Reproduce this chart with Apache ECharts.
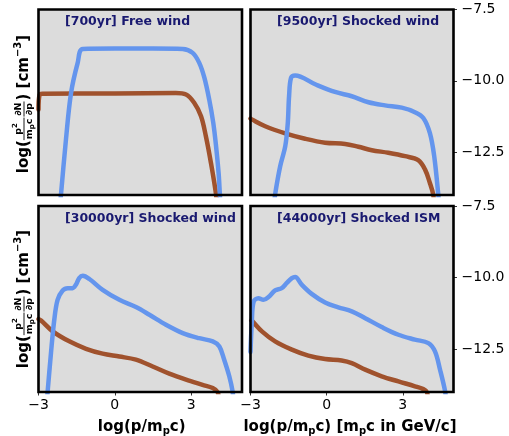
<!DOCTYPE html>
<html>
<head>
<meta charset="utf-8">
<script src="https://cdn.jsdelivr.net/npm/echarts@6/dist/echarts.min.js"></script>
<style>html,body{margin:0;padding:0;background:#fff}#c{width:509px;height:436px}</style>
</head>
<body>
<div id="c"></div>
<script>
// ---- data ----
const panelTitles = ['[700yr] Free wind', '[9500yr] Shocked wind', '[30000yr] Shocked wind', '[44000yr] Shocked ISM'];
const xTicks = [-3, 0, 3];
const yTicks = [-12.5, -10, -7.5];
const xRange = [-3, 5];
const yRange = [-14, -7.5];

const tlBlue = [[-2.15,-14.3],[-2.116,-13.98],[-1.92,-12.05],[-1.72,-10.42],[-1.46,-9.37],[-1.26,-8.88],[0,-8.87],[1.5,-8.87],[2.67,-8.88],[3.06,-9.02],[3.32,-9.37],[3.52,-9.89],[3.71,-10.65],[3.87,-11.47],[3.98,-12.29],[4.08,-13.23],[4.13,-13.98],[4.15,-14.3]];
const tlBrown = [[-3,-11.0],[-2.96,-10.5],[-2.85,-10.45],[0,-10.44],[2.4,-10.43],[2.8,-10.48],[3.12,-10.77],[3.39,-11.24],[3.58,-11.94],[3.78,-12.88],[3.98,-13.98],[4.0,-14.3]];

const trBlue = [[-2.06,-14.3],[-2.03,-13.98],[-1.83,-12.99],[-1.63,-12.29],[-1.53,-11.47],[-1.48,-10.54],[-1.40,-9.89],[-1.24,-9.81],[-0.45,-10.12],[0.33,-10.39],[0.99,-10.54],[1.65,-10.75],[2.30,-10.86],[2.96,-10.94],[3.48,-11.10],[3.81,-11.30],[4.07,-11.83],[4.24,-12.64],[4.40,-13.98],[4.43,-14.3]];
const trBrown = [[-3,-11.32],[-2.95,-11.35],[-2.42,-11.59],[-1.63,-11.84],[-0.85,-12.03],[-0.06,-12.17],[0.73,-12.21],[1.25,-12.31],[1.78,-12.43],[2.43,-12.52],[3.09,-12.64],[3.61,-12.78],[3.88,-13.11],[4.07,-13.58],[4.20,-13.98],[4.23,-14.3]];

const blBlue = [[-2.67,-14.3],[-2.64,-13.98],[-2.51,-12.64],[-2.38,-11.48],[-2.25,-10.78],[-2.05,-10.45],[-1.85,-10.37],[-1.66,-10.37],[-1.53,-10.25],[-1.40,-10.02],[-1.26,-9.94],[-1.00,-10.05],[-0.48,-10.43],[0.18,-10.78],[0.83,-11.03],[1.36,-11.30],[2.01,-11.65],[2.67,-11.94],[3.32,-12.12],[3.85,-12.23],[4.11,-12.41],[4.30,-12.87],[4.50,-13.45],[4.63,-13.98],[4.66,-14.3]];
const blBrown = [[-3,-11.45],[-2.90,-11.50],[-2.44,-11.88],[-1.79,-12.23],[-1.13,-12.49],[-0.48,-12.66],[0.18,-12.76],[0.83,-12.87],[1.49,-13.11],[2.14,-13.36],[2.80,-13.57],[3.45,-13.75],[3.85,-13.86],[4.04,-14.0],[4.1,-14.3]];

const brBlue = [[-3,-12.6],[-2.95,-11.6],[-2.88,-10.85],[-2.69,-10.72],[-2.49,-10.78],[-2.29,-10.68],[-2.03,-10.45],[-1.77,-10.37],[-1.57,-10.19],[-1.37,-10.02],[-1.24,-9.98],[-0.98,-10.25],[-0.59,-10.57],[-0.06,-10.87],[0.46,-11.04],[0.99,-11.18],[1.52,-11.42],[2.17,-11.73],[2.83,-12.0],[3.48,-12.17],[4.01,-12.29],[4.27,-12.58],[4.47,-13.22],[4.67,-13.98],[4.70,-14.3]];
const brBrown = [[-2.97,-11.5],[-2.92,-11.53],[-2.55,-11.88],[-2.03,-12.23],[-1.37,-12.52],[-0.72,-12.73],[-0.06,-12.85],[0.59,-12.90],[0.99,-12.99],[1.52,-13.22],[2.17,-13.45],[2.83,-13.63],[3.48,-13.80],[3.81,-13.90],[3.95,-14.0],[4.0,-14.3]];

const blueSeries = [tlBlue, trBlue, blBlue, brBlue];
const brownSeries = [tlBrown, trBrown, blBrown, brBrown];

// ---- layout / style ----
const FONT = 'DejaVu Sans';
const BLUE = '#6495ED', BROWN = '#A0522D';
const grids = [
  {left: 38.5, top: 9.5, width: 203.5, height: 185.5},
  {left: 250.5, top: 9.5, width: 203, height: 185.5},
  {left: 38.5, top: 206, width: 203.5, height: 186},
  {left: 250.5, top: 206, width: 203, height: 186}
];
const isBottom = i => i >= 2;
const isRight = i => i % 2 === 1;

const mctx = document.createElement('canvas').getContext('2d');
function measure(text, size) { mctx.font = 'bold ' + size + 'px "' + FONT + '"'; return mctx.measureText(text).width; }
function layout(pieces) {
  let x = 0; const els = [];
  for (const p of pieces) {
    if (p.frac) {
      const n = layout(p.num), d = layout(p.den);
      const w = Math.max(n.w, d.w) + 2;
      els.push({type: 'group', x: x + (w - n.w) / 2, y: -p.off, children: n.els});
      els.push({type: 'group', x: x + (w - d.w) / 2, y: p.off + 0.5, children: d.els});
      els.push({type: 'line', shape: {x1: x, y1: 0, x2: x + w, y2: 0}, style: {stroke: '#000', lineWidth: 0.9}});
      x += w + 1;
    } else {
      const w = measure(p.s, p.size);
      els.push({type: 'text', x: x, y: p.dy || 0, style: {text: p.s, font: 'bold ' + p.size + 'px "' + FONT + '"', fill: '#000', textAlign: 'left', textVerticalAlign: 'middle'}});
      x += w;
    }
  }
  return {w: x, els};
}
function label(pieces, cx, cy, rot) {
  const L = layout(pieces);
  return {type: 'group', x: cx, y: cy, rotation: rot || 0, children: [{type: 'group', x: -L.w / 2, y: 0, children: L.els}]};
}

const yLabelPieces = [
  {s: 'log(', size: 15},
  {frac: true, off: 5.5, num: [{s: 'p', size: 9.5}, {s: '2', size: 7, dy: -3}], den: [{s: 'm', size: 9.5}, {s: 'p', size: 7, dy: 2.5}, {s: 'c', size: 9.5}]},
  {frac: true, off: 5.5, num: [{s: '\u2202N', size: 9.5}], den: [{s: '\u2202p', size: 9.5}]},
  {s: ')', size: 15},
  {s: ' [cm', size: 15},
  {s: '\u22123', size: 10, dy: -6},
  {s: ']', size: 15}
];
const xLabelLeft = [{s: 'log(p/m', size: 15}, {s: 'p', size: 10, dy: 4}, {s: 'c)', size: 15}];
const xLabelRight = [{s: 'log(p/m', size: 15}, {s: 'p', size: 10, dy: 4}, {s: 'c) [m', size: 15}, {s: 'p', size: 10, dy: 4}, {s: 'c in GeV/c]', size: 15}];

const chart = echarts.init(document.getElementById('c'), null, {renderer: 'canvas'});

const option = {
  animation: false,
  backgroundColor: '#fff',
  grid: grids.map(g => Object.assign({show: true, backgroundColor: '#dcdcdc', borderWidth: 0, containLabel: false}, g)),
  xAxis: grids.map((g, i) => ({
    gridIndex: i, type: 'value', min: xRange[0], max: xRange[1],
    axisLine: {show: false, onZero: false}, splitLine: {show: false},
    axisTick: {show: isBottom(i), length: 3.5, customValues: xTicks, lineStyle: {color: '#000', width: 0.8}},
    axisLabel: {show: isBottom(i), customValues: xTicks, margin: 6, fontSize: 14, fontFamily: FONT, color: '#000',
      formatter: v => (v < 0 ? '\u2212' : '') + Math.abs(v)}
  })),
  yAxis: grids.map((g, i) => ({
    gridIndex: i, type: 'value', min: yRange[0], max: yRange[1], position: 'right',
    axisLine: {show: false, onZero: false}, splitLine: {show: false},
    axisTick: {show: isRight(i), length: 3.5, customValues: yTicks, lineStyle: {color: '#000', width: 0.8}},
    axisLabel: {show: isRight(i), customValues: yTicks, margin: 8, fontSize: 14, fontFamily: FONT, color: '#000',
      formatter: v => (v < 0 ? '\u2212' : '') + Math.abs(v).toFixed(1)}
  })),
  series: [].concat(
    brownSeries.map((d, i) => ({type: 'line', xAxisIndex: i, yAxisIndex: i, data: d, showSymbol: false, smooth: 0.35, clip: true,
      lineStyle: {color: BROWN, width: 4.5, cap: 'round', join: 'round'}, z: 2})),
    blueSeries.map((d, i) => ({type: 'line', xAxisIndex: i, yAxisIndex: i, data: d, showSymbol: false, smooth: 0.35, clip: true,
      lineStyle: {color: BLUE, width: 4.5, cap: 'round', join: 'round'}, z: 3}))
  ),
  graphic: [].concat(
    grids.map(g => ({type: 'rect', shape: {x: g.left, y: g.top, width: g.width, height: g.height}, style: {fill: 'none', stroke: '#000', lineWidth: 2.6}, z: 100})),
    grids.map((g, i) => ({type: 'text', x: g.left + 26.5, y: g.top + 12.5, z: 101,
      style: {text: panelTitles[i], font: 'bold 12.5px "' + FONT + '"', fill: '#191970', textAlign: 'left', textVerticalAlign: 'middle'}})),
    [
      Object.assign(label(yLabelPieces, 24, 104, Math.PI / 2), {z: 101}),
      Object.assign(label(yLabelPieces, 24, 299, Math.PI / 2), {z: 101}),
      Object.assign(label(xLabelLeft, 141.7, 427), {z: 101}),
      Object.assign(label(xLabelRight, 350, 427), {z: 101})
    ]
  )
};
chart.setOption(option);
</script>
</body>
</html>
